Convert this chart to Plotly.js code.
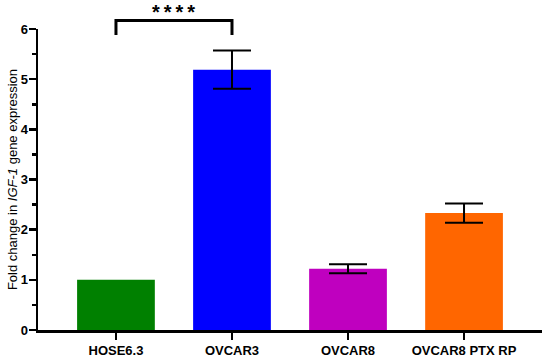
<!DOCTYPE html>
<html>
<head>
<meta charset="utf-8">
<script src="https://cdn.plot.ly/plotly-3.0.1.min.js"></script>
<style>html,body{margin:0;padding:0;background:#fff;}#chart{width:550px;height:357px;}</style>
</head>
<body>
<div id="chart"></div>
<script>
var categories = ["HOSE6.3", "OVCAR3", "OVCAR8", "OVCAR8 PTX RP"];
var foldChange = [1.0, 5.19, 1.22, 2.33];
var errorSD = [NaN, 0.38, 0.09, 0.19];
var barColors = ["#008000", "#0000ff", "#bf00bf", "#ff6600"];
var yTicks = [0, 1, 2, 3, 4, 5, 6];
var sigLabel = "*\u2009*\u2009*\u2009*";
var sigPair = [0, 1];

var font = "Liberation Sans, Arial, sans-serif";

var trace = {
  type: "bar",
  x: categories,
  y: foldChange,
  width: 0.67,
  marker: {color: barColors, line: {width: 0}},
  error_y: {type: "data", array: errorSD, visible: true, color: "#000", thickness: 2, width: 19},
  hoverinfo: "none"
};

var layout = {
  width: 550, height: 357,
  margin: {l: 38, r: 8, t: 29, b: 27},
  paper_bgcolor: "#fff", plot_bgcolor: "#fff",
  showlegend: false,
  font: {family: font, color: "#000"},
  xaxis: {
    type: "category",
    range: [-0.672, 3.672],
    showline: true, linecolor: "#000", linewidth: 2.5,
    ticks: "outside", ticklen: 7, tickwidth: 2.5, tickcolor: "#000",
    tickfont: {family: font, size: 13, color: "#000", weight: "bold"},
    showgrid: false, zeroline: false, fixedrange: true
  },
  yaxis: {
    range: [0, 6],
    tickvals: yTicks,
    showline: true, linecolor: "#000", linewidth: 2.5,
    ticks: "outside", ticklen: 7, tickwidth: 2.5, tickcolor: "#000",
    ticklabelstandoff: -2,
    minor: {dtick: 0.5, ticks: "outside", ticklen: 4, tickwidth: 2.5, tickcolor: "#000", showgrid: false},
    tickfont: {family: font, size: 13, color: "#000", weight: "bold"},
    showgrid: false, zeroline: false, fixedrange: true,
    title: {text: "Fold change in <i>IGF-1</i> gene expression", font: {family: font, size: 13, color: "#000"}, standoff: 0}
  },
  shapes: [{
    type: "path", xref: "x", yref: "paper",
    path: "M " + sigPair[0] + " 0.98 L " + sigPair[0] + " 1.028 L " + sigPair[1] + " 1.028 L " + sigPair[1] + " 0.98",
    line: {color: "#000", width: 3}
  }],
  annotations: [{
    xref: "x", yref: "paper",
    x: (sigPair[0] + sigPair[1]) / 2, y: 1.012,
    yanchor: "bottom", showarrow: false,
    text: sigLabel,
    font: {family: font, size: 20, color: "#000", weight: "bold"}
  }]
};

Plotly.newPlot("chart", [trace], layout, {displayModeBar: false, staticPlot: true});
</script>
</body>
</html>
